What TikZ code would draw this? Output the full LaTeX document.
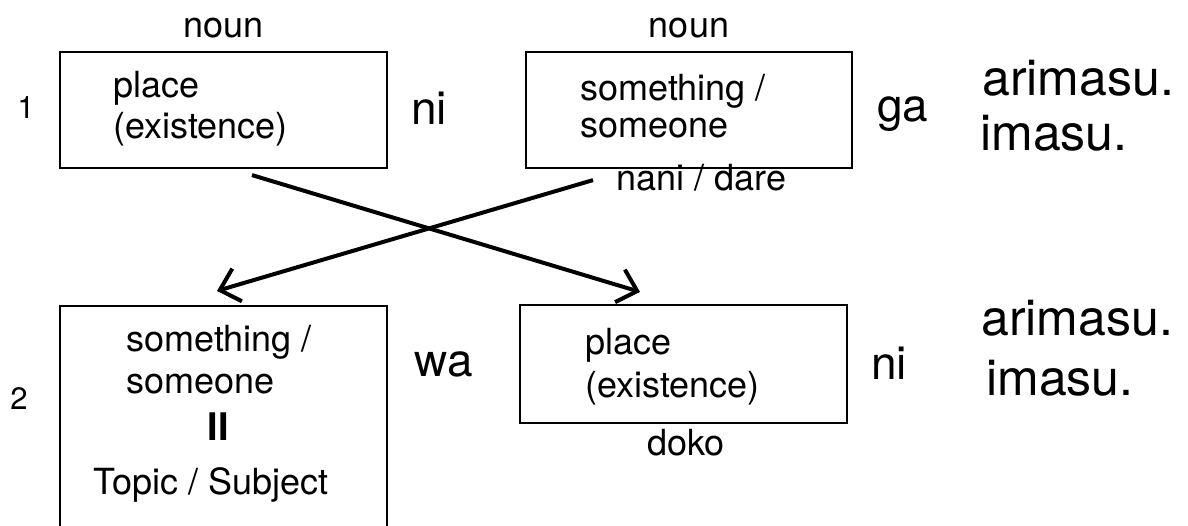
\documentclass[tikz,border=0pt]{standalone}
\usepackage{fontspec}
\setmainfont{TeX Gyre Heros}
\usetikzlibrary{arrows.meta}

\begin{document}
\begin{tikzpicture}[x=.5pt,y=-.5pt,
	box/.style={draw,line width=1.1pt,inner sep=0pt},
	sm/.style={inner sep=0pt,font=\fontsize{18}{20}\selectfont},
	num/.style={inner sep=0pt,font=\fontsize{15.5}{18}\selectfont},
	ptcl/.style={inner sep=0pt,font=\fontsize{23}{26}\selectfont},
	verb/.style={inner sep=0pt,font=\fontsize{25}{28}\selectfont},
	arr/.style={line width=2pt,-{Straight Barb[length=9pt,width=17pt]}}]
	\useasboundingbox (0,0) rectangle (1188,525);
	% row 1
	\node[num] (n1) at (26,108) {1};
	\node[box,minimum width=163.5pt,minimum height=58pt] (place1) at (223.5,110) {};
	\node[box,minimum width=163pt,minimum height=58pt] (thing1) at (689,110) {};
	\node[sm,anchor=base] (noun1) at (223.5,37) {noun};
	\node[sm,anchor=base] (noun2) at (689,37) {noun};
	\node[sm,anchor=base west] (pl1a) at (113,97) {place};
	\node[sm,anchor=base west] (pl1b) at (113,138) {(existence)};
	\node[sm,anchor=base west] (th1a) at (580,100) {something /};
	\node[sm,anchor=base west] (th1b) at (580,137) {someone};
	\node[sm,anchor=base west] (nani) at (616,190) {nani / dare};
	\node[ptcl,anchor=base] (ni1) at (429,124) {ni};
	\node[ptcl,anchor=base] (ga) at (903,121) {ga};
	\node[verb,anchor=base west] (ari1) at (982,95) {arimasu.};
	\node[verb,anchor=base west] (ima1) at (980,150) {imasu.};
	% row 2
	\node[num] (n2) at (19,399) {2};
	\node[box,minimum width=163.5pt,minimum height=120pt] (thing2) at (223.5,426) {};
	\node[box,minimum width=163.5pt,minimum height=59pt] (place2) at (683.5,364) {};
	\node[sm,anchor=base west] (th2a) at (126,351) {something /};
	\node[sm,anchor=base west] (th2b) at (126,393) {someone};
	\node[inner sep=0pt,anchor=base,font=\fontsize{19}{22}\selectfont\bfseries] (eq) at (218,440) {II};
	\node[sm,anchor=base] (topic) at (211,494) {Topic / Subject};
	\node[sm,anchor=base west] (pl2a) at (585,354) {place};
	\node[sm,anchor=base west] (pl2b) at (585,397) {(existence)};
	\node[sm,anchor=base] (doko) at (686,455) {doko};
	\node[ptcl,anchor=base] (wa) at (444,376) {wa};
	\node[ptcl,anchor=base] (ni2) at (889,379) {ni};
	\node[verb,anchor=base west] (ari2) at (981,335) {arimasu.};
	\node[verb,anchor=base west] (ima2) at (986,395) {imasu.};
	% crossing arrows
	\draw[arr] ([xshift=14.25pt,yshift=-3pt]place1.south) -- ([xshift=-21.75pt,yshift=6pt]place2.north);
	\draw[arr] ([xshift=-48pt,yshift=-5.5pt]thing1.south) -- ([xshift=-3.25pt,yshift=7pt]thing2.north);
\end{tikzpicture}
\end{document}
